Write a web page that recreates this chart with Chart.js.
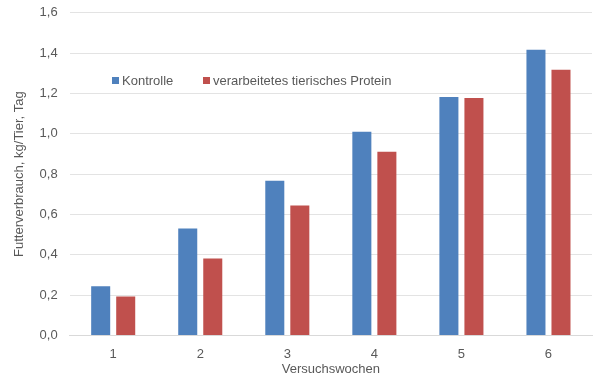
<!DOCTYPE html>
<html lang="de">
<head>
<meta charset="UTF-8">
<title>Futterverbrauch</title>
<script src="https://cdn.jsdelivr.net/npm/chart.js"></script>
<style>
  html, body { margin: 0; padding: 0; background: #fff; overflow: hidden; }
  .chart-container { position: relative; width: 600px; height: 391px; margin-top: -7px; }
</style>
</head>
<body>
<div class="chart-container">
  <canvas id="grafico"></canvas>
</div>
<script>
  const wochen = ['1', '2', '3', '4', '5', '6'];
  const kontrolle = [0.244, 0.530, 0.767, 1.010, 1.183, 1.417];
  const protein = [0.193, 0.381, 0.644, 0.911, 1.177, 1.317];
  const legende = ['Kontrolle', 'verarbeitetes tierisches Protein'];

  const grau = '#595959';

  // Legende innerhalb der Zeichenfläche
  const legendePlugin = {
    id: 'legendeInnen',
    afterDraw(chart) {
      const ctx = chart.ctx;
      const pos = [112, 203];
      ctx.save();
      ctx.font = '13px "Liberation Sans", Arial, sans-serif';
      ctx.textBaseline = 'middle';
      chart.data.datasets.forEach((ds, i) => {
        ctx.fillStyle = ds.backgroundColor;
        ctx.fillRect(pos[i], 84, 7, 7);
        ctx.fillStyle = grau;
        ctx.fillText(ds.label, pos[i] + 10, 88);
      });
      ctx.restore();
    }
  };

  new Chart(document.getElementById('grafico'), {
    type: 'bar',
    data: {
      labels: wochen,
      datasets: [{
        label: legende[0],
        data: kontrolle,
        backgroundColor: '#4F81BD'
      }, {
        label: legende[1],
        data: protein,
        backgroundColor: '#C0504D'
      }]
    },
    options: {
      responsive: true,
      maintainAspectRatio: false,
      animation: false,
      layout: { padding: { left: 8, right: 8, top: 4, bottom: 4 } },
      categoryPercentage: 0.575,
      barPercentage: 0.76,
      plugins: {
        legend: { display: false },
        tooltip: { enabled: false }
      },
      scales: {
        x: {
          grid: { display: false },
          border: { color: '#d9d9d9' },
          ticks: { color: grau, font: { family: '"Liberation Sans", Arial', size: 13 } },
          title: {
            display: true,
            text: 'Versuchswochen',
            color: grau,
            padding: { top: -2, bottom: 4 },
            font: { family: '"Liberation Sans", Arial', size: 13, lineHeight: 1 }
          }
        },
        y: {
          min: 0,
          max: 1.6,
          ticks: {
            stepSize: 0.2,
            color: grau,
            padding: 12,
            font: { family: '"Liberation Sans", Arial', size: 13 },
            callback: v => v.toFixed(1).replace('.', ',')
          },
          grid: { color: '#e3e3e3', drawTicks: false },
          border: { display: false },
          title: {
            display: true,
            text: 'Futterverbrauch, kg/Tier, Tag',
            color: grau,
            padding: { top: 4, bottom: 0 },
            font: { family: '"Liberation Sans", Arial', size: 13 }
          }
        }
      }
    },
    plugins: [legendePlugin]
  });
</script>
</body>
</html>
